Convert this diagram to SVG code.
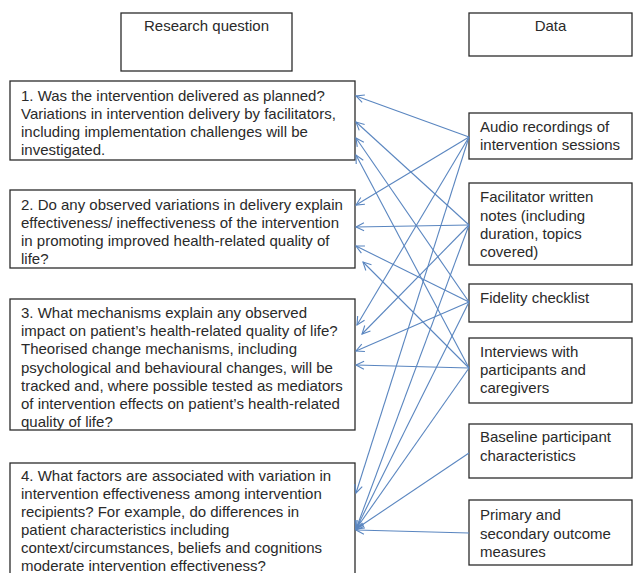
<svg xmlns="http://www.w3.org/2000/svg" width="633" height="573" viewBox="0 0 633 573">
<defs>
<style>
.box{fill:#fff;stroke:#2b2b2b;stroke-width:1.3}
.t{font-family:"Liberation Sans",Arial,sans-serif;font-size:15px;fill:#2a2a2a}
.c{fill:none;stroke:#5a86c0;stroke-width:1.1}
</style>
<marker id="ah" markerUnits="userSpaceOnUse" markerWidth="12" markerHeight="12" refX="10" refY="6" orient="auto">
<path d="M2,2 L10,6 L2,10" fill="none" stroke="#5a86c0" stroke-width="1.1"/>
</marker>
</defs>
<rect width="633" height="573" fill="#fff"/>
<g id="hdr-rq">
<rect class="box" x="121" y="13" width="171" height="58"/>
<text class="t" x="206.5" y="31" text-anchor="middle">Research question</text>
</g>
<g id="hdr-data">
<rect class="box" x="469" y="13" width="163" height="43"/>
<text class="t" x="550.5" y="31" text-anchor="middle">Data</text>
</g>
<g id="rq1">
<rect class="box" x="10" y="81" width="345" height="79"/>
<text class="t" x="21"><tspan x="21" y="101">1. Was the intervention delivered as planned?</tspan><tspan x="21" y="119">Variations in intervention delivery by facilitators,</tspan><tspan x="21" y="137">including implementation challenges will be</tspan><tspan x="21" y="154.5">investigated.</tspan></text>
</g>
<g id="rq2">
<rect class="box" x="10" y="190" width="345" height="78"/>
<text class="t" x="21"><tspan x="21" y="210">2. Do any observed variations in delivery explain</tspan><tspan x="21" y="228">effectiveness/ ineffectiveness of the intervention</tspan><tspan x="21" y="246">in promoting improved health-related quality of</tspan><tspan x="21" y="263.5">life?</tspan></text>
</g>
<g id="rq3">
<rect class="box" x="10" y="299" width="345" height="131"/>
<text class="t" x="21"><tspan x="21" y="318">3. What mechanisms explain any observed</tspan><tspan x="21" y="336.2">impact on patient’s health-related quality of life?</tspan><tspan x="21" y="354.4">Theorised change mechanisms, including</tspan><tspan x="21" y="372.6">psychological and behavioural changes, will be</tspan><tspan x="21" y="390.8">tracked and, where possible tested as mediators</tspan><tspan x="21" y="409">of intervention effects on patient’s health-related</tspan><tspan x="21" y="427">quality of life?</tspan></text>
</g>
<g id="rq4">
<rect class="box" x="10" y="463" width="345" height="120"/>
<text class="t" x="21"><tspan x="21" y="481">4. What factors are associated with variation in</tspan><tspan x="21" y="499">intervention effectiveness among intervention</tspan><tspan x="21" y="517">recipients? For example, do differences in</tspan><tspan x="21" y="535">patient characteristics including</tspan><tspan x="21" y="553">context/circumstances, beliefs and cognitions</tspan><tspan x="21" y="571">moderate intervention effectiveness?</tspan></text>
</g>
<g id="d-audio">
<rect class="box" x="469" y="113" width="163" height="46"/>
<text class="t"><tspan x="480" y="132">Audio recordings of</tspan><tspan x="480" y="150">intervention sessions</tspan></text>
</g>
<g id="d-facilitator">
<rect class="box" x="469" y="183" width="163" height="82"/>
<text class="t"><tspan x="480" y="202">Facilitator written</tspan><tspan x="480" y="220.5">notes (including</tspan><tspan x="480" y="239">duration, topics</tspan><tspan x="480" y="257">covered)</tspan></text>
</g>
<g id="d-fidelity">
<rect class="box" x="469" y="284" width="163" height="38"/>
<text class="t"><tspan x="480" y="303">Fidelity checklist</tspan></text>
</g>
<g id="d-interviews">
<rect class="box" x="469" y="338" width="163" height="65"/>
<text class="t"><tspan x="480" y="357">Interviews with</tspan><tspan x="480" y="375">participants and</tspan><tspan x="480" y="393">caregivers</tspan></text>
</g>
<g id="d-baseline">
<rect class="box" x="469" y="424" width="163" height="54"/>
<text class="t"><tspan x="480" y="442">Baseline participant</tspan><tspan x="480" y="461">characteristics</tspan></text>
</g>
<g id="d-primary">
<rect class="box" x="469" y="500" width="163" height="65"/>
<text class="t"><tspan x="480" y="520">Primary and</tspan><tspan x="480" y="539">secondary outcome</tspan><tspan x="480" y="557">measures</tspan></text>
</g>
<g id="connectors" class="c" marker-end="url(#ah)">
<line class="c" marker-end="url(#ah)" x1="469" y1="137" x2="356" y2="96"/>
<line class="c" marker-end="url(#ah)" x1="469" y1="225" x2="356" y2="122"/>
<line class="c" marker-end="url(#ah)" x1="469" y1="302" x2="356" y2="138"/>
<line class="c" marker-end="url(#ah)" x1="469" y1="368" x2="356" y2="155"/>
<line class="c" marker-end="url(#ah)" x1="469" y1="137" x2="356" y2="205"/>
<line class="c" marker-end="url(#ah)" x1="469" y1="225" x2="356" y2="227"/>
<line class="c" marker-end="url(#ah)" x1="469" y1="302" x2="356" y2="246"/>
<line class="c" marker-end="url(#ah)" x1="469" y1="368" x2="363" y2="262"/>
<line class="c" marker-end="url(#ah)" x1="469" y1="137" x2="357" y2="325"/>
<line class="c" marker-end="url(#ah)" x1="469" y1="225" x2="362" y2="334"/>
<line class="c" marker-end="url(#ah)" x1="469" y1="302" x2="356" y2="351"/>
<line class="c" marker-end="url(#ah)" x1="469" y1="368" x2="356" y2="365"/>
<line class="c" marker-end="url(#ah)" x1="469" y1="137" x2="356" y2="493"/>
<line class="c" marker-end="url(#ah)" x1="469" y1="225" x2="356" y2="529"/>
<line class="c" marker-end="url(#ah)" x1="469" y1="302" x2="356" y2="529"/>
<line class="c" marker-end="url(#ah)" x1="469" y1="368" x2="356" y2="529"/>
<line class="c" marker-end="url(#ah)" x1="469" y1="453" x2="356" y2="529"/>
<line class="c" marker-end="url(#ah)" x1="469" y1="533" x2="356" y2="530"/>
</g>
</svg>
